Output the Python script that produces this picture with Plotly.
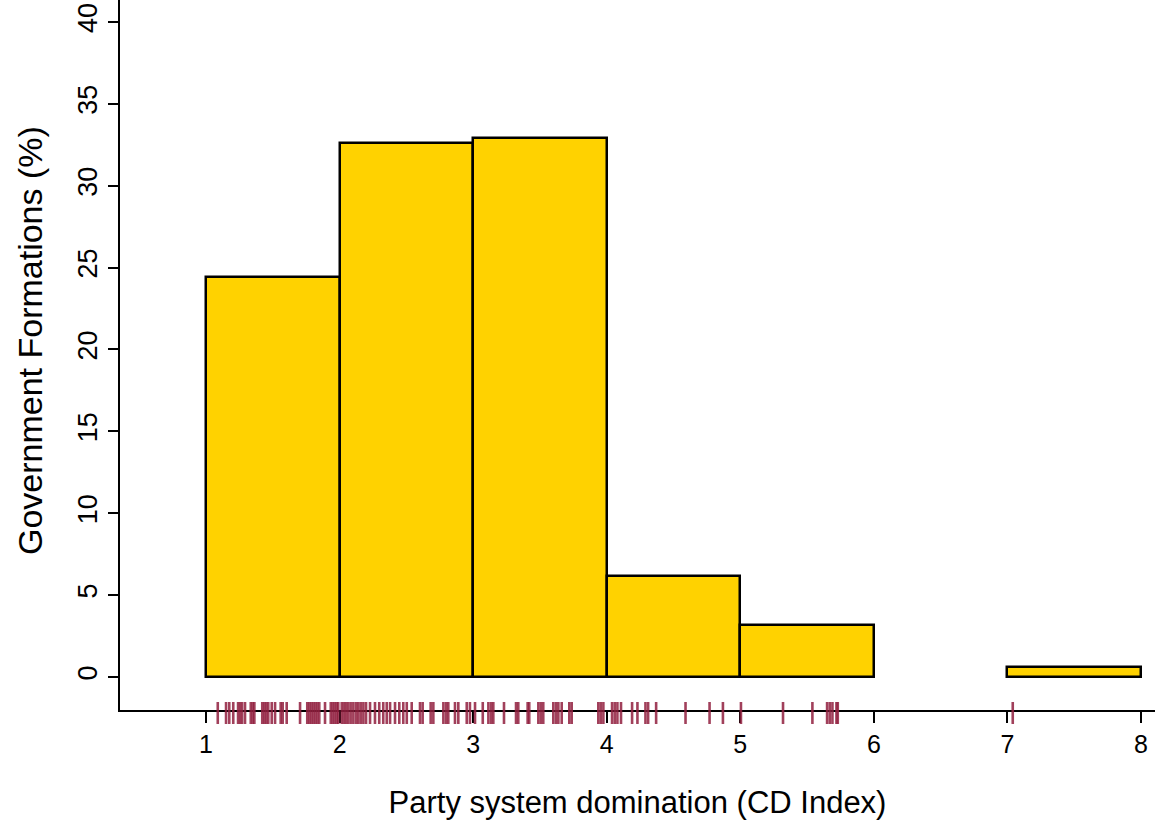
import plotly.graph_objects as go

# Histogram bins (CD Index) and percentage of government formations
bin_left = [1, 2, 3, 4, 5, 6, 7]
bin_right = [2, 3, 4, 5, 6, 7, 8]
pct = [24.43, 32.61, 32.92, 6.17, 3.18, 0.0, 0.61]

# Rug: individual observations of CD Index
rug_values = [
    1.088, 1.150, 1.174, 1.204, 1.240, 1.255, 1.270, 1.292, 1.335, 1.350, 1.362,
    1.421, 1.436, 1.451, 1.466, 1.492, 1.517, 1.559, 1.574, 1.604, 1.704, 1.758,
    1.773, 1.788, 1.803, 1.818, 1.833, 1.848, 1.891, 1.934, 1.949, 1.964, 1.979,
    1.990, 2.016, 2.033, 2.048, 2.065, 2.083, 2.103, 2.123, 2.140, 2.158, 2.178,
    2.198, 2.228, 2.265, 2.297, 2.327, 2.353, 2.378, 2.415, 2.447, 2.477, 2.503,
    2.540, 2.602, 2.622, 2.682, 2.702, 2.777, 2.797, 2.814, 2.864, 2.889, 2.952,
    2.976, 3.014, 3.072, 3.114, 3.134, 3.151, 3.231, 3.321, 3.338, 3.408, 3.420,
    3.488, 3.506, 3.525, 3.600, 3.620, 3.638, 3.663, 3.720, 3.738, 3.937, 3.955,
    3.975, 4.04, 4.06, 4.08, 4.107, 4.19, 4.23, 4.29, 4.31, 4.37, 4.59, 4.77,
    4.87, 5.005, 5.32, 5.54, 5.65, 5.67, 5.69, 5.72, 5.73, 7.04,
]

x_ticks = [1, 2, 3, 4, 5, 6, 7, 8]
y_ticks = [0, 5, 10, 15, 20, 25, 30, 35, 40]

FONT = "Liberation Sans, Arial, sans-serif"

centers = [(l + r) / 2 for l, r in zip(bin_left, bin_right)]
widths = [r - l for l, r in zip(bin_left, bin_right)]
keep = [i for i, v in enumerate(pct) if v > 0]

fig = go.Figure()
fig.add_trace(go.Bar(
    x=[centers[i] for i in keep],
    y=[pct[i] for i in keep],
    width=[widths[i] for i in keep],
    marker=dict(color="#FFD200", line=dict(color="black", width=2.5)),
    hoverinfo="skip",
))

# rug ticks straddling the x-axis line (x in data units, y in paper units)
for v in rug_values:
    fig.add_shape(type="line", xref="x", yref="paper",
                  x0=v, x1=v, y0=0.0113, y1=-0.0197,
                  line=dict(color="rgba(145,30,62,0.85)", width=2.6),
                  layer="above")

# y-axis title placed as in the reference (slightly above the plot centre)
fig.add_annotation(text="Government Formations (%)", textangle=-90,
                   xref="paper", yref="paper", x=-0.087, y=0.521,
                   xanchor="center", yanchor="middle", showarrow=False,
                   font=dict(size=34))

fig.update_layout(
    width=1161, height=826,
    margin=dict(l=120, r=6, t=0, b=116),
    plot_bgcolor="white", paper_bgcolor="white",
    showlegend=False,
    bargap=0,
    font=dict(family=FONT, size=24, color="black"),
)
fig.update_xaxes(
    range=[0.356, 8.105],
    tickvals=x_ticks, ticktext=[str(t) for t in x_ticks],
    ticks="outside", ticklen=11, tickwidth=2, tickcolor="black",
    showline=True, linecolor="black", linewidth=2,
    showgrid=False, zeroline=False, automargin=False,
    tickfont=dict(size=25),
    title=dict(text="Party system domination (CD Index)", font=dict(size=31), standoff=34),
)
fig.update_yaxes(
    range=[-2.015, 41.34],
    tickvals=y_ticks, ticktext=[str(t) for t in y_ticks],
    ticks="outside", ticklen=10, tickwidth=2, tickcolor="black",
    tickangle=-90,
    showline=True, linecolor="black", linewidth=2,
    showgrid=False, zeroline=False, automargin=False,
    tickfont=dict(size=27),
)

fig.write_html("out.html", config={"displayModeBar": False},
               post_script="document.body.style.margin='0';")
